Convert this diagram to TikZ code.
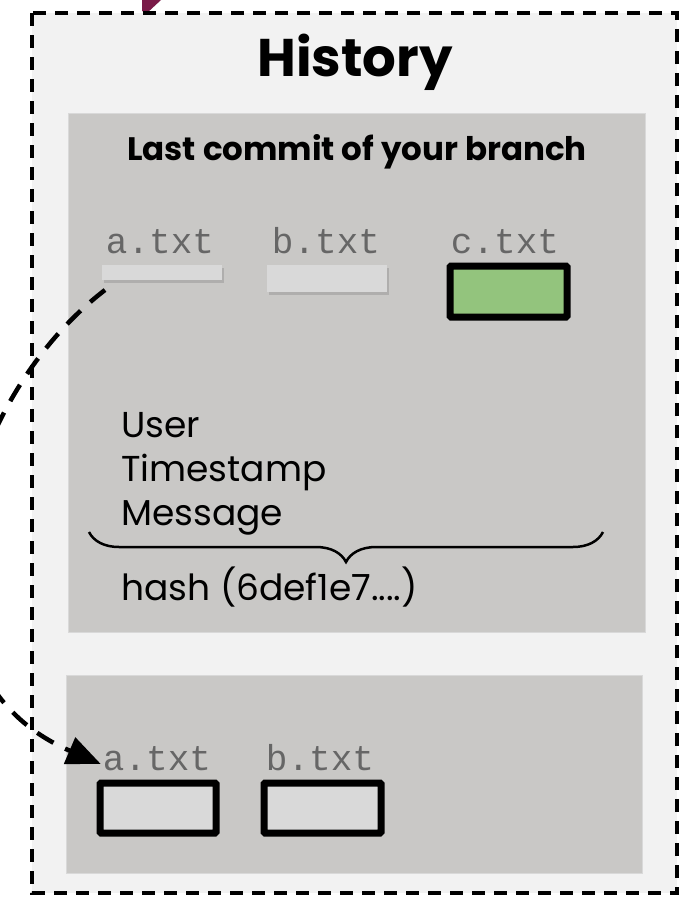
\documentclass[tikz,border=0pt]{standalone}
\usepackage{fontspec}
\setmainfont{Poppins}
\newfontfamily\monofont{Liberation Mono}
\usetikzlibrary{arrows.meta,shadows,decorations.pathreplacing}
\definecolor{panelbg}{HTML}{F2F2F2}
\definecolor{commitbg}{HTML}{C9C8C6}
\definecolor{filebg}{HTML}{D9D9D9}
\definecolor{changed}{HTML}{93C47D}
\definecolor{fname}{HTML}{666666}
\definecolor{plum}{HTML}{7A1A48}
\tikzset{
  panel/.style={draw=black, fill=panelbg, line width=3.5pt, dash pattern=on 13pt off 9pt},
  commit/.style={fill=commitbg, draw=black!15, line width=0.8pt},
  fileshadow/.style={drop shadow={opacity=0.35, shadow xshift=1.5pt, shadow yshift=-3pt}},
  emptyfile/.style={fill=filebg, fileshadow},
  filebox/.style={draw=black, line width=7pt, rounded corners=1pt, fileshadow},
  flabel/.style={font=\monofont\fontsize{36}{40}\selectfont, text=fname, anchor=base, inner sep=0pt},
  meta/.style={font=\fontsize{36}{40}\selectfont, anchor=base west, inner sep=0pt},
  link/.style={line width=4.5pt, dash pattern=on 19pt off 13pt, -{Triangle[length=34pt,width=28pt]}},
}
\begin{document}
\begin{tikzpicture}[x=1pt,y=-1pt]
\useasboundingbox (0,0) rectangle (689,898);
\clip (0,0) rectangle (689,898);
\fill[white] (0,0) rectangle (689,898);

% incoming arrow end above the panel
\fill[plum] (142,0) -- (161,0) -- (147,13) -- (142,11) -- cycle;

% history panel
\draw[panel] (32,13) rectangle (677,893);
\node[font=\bfseries\fontsize{53}{58}\selectfont, inner sep=0pt] (title) at (355,62) {History};

% last commit
\draw[commit] (68,113) rectangle (645,632);
\node[font=\bfseries\fontsize{32.5}{36}\selectfont, inner sep=0pt] (commitTitle) at (357,152) {Last commit of your branch};

\node[flabel] (aTopLbl) at (160,253) {a.txt};
\node[flabel] (bTopLbl) at (326,253) {b.txt};
\node[flabel] (cTopLbl) at (505,253) {c.txt};

\path[emptyfile] (102,265) rectangle (222,280);
\coordinate (aTop) at (102,280);
\path[emptyfile] (267,265) rectangle (387,292);
\draw[filebox, fill=changed] (450,266) rectangle (567,317);

\node[meta] (user) at (121,437) {User};
\node[meta] (stamp) at (121,481) {Timestamp};
\node[meta] (msg) at (121,525) {Message};
\draw[line width=2.5pt, decoration={brace, mirror, amplitude=30pt, aspect=0.5}, decorate]
  (89,532) -- (603,532);
\node[meta] (hash) at (121,600) {hash (6def1e7....)};

% staged snapshot
\draw[commit] (66,675) rectangle (642,873);
\node[flabel] (aBotLbl) at (157,770) {a.txt};
\node[flabel] (bBotLbl) at (320,770) {b.txt};
\draw[filebox, fill=filebg] (100,783) rectangle (216,833);
\draw[filebox, fill=filebg] (264,783) rectangle (381,833);

% link from the committed a.txt to the staged a.txt
\draw[link] ([shift={(3,10)}]aTop) .. controls +(-150,115) and +(-210,-90) .. ([shift={(-2,-6)}]aBotLbl.base west);
\end{tikzpicture}
\end{document}
